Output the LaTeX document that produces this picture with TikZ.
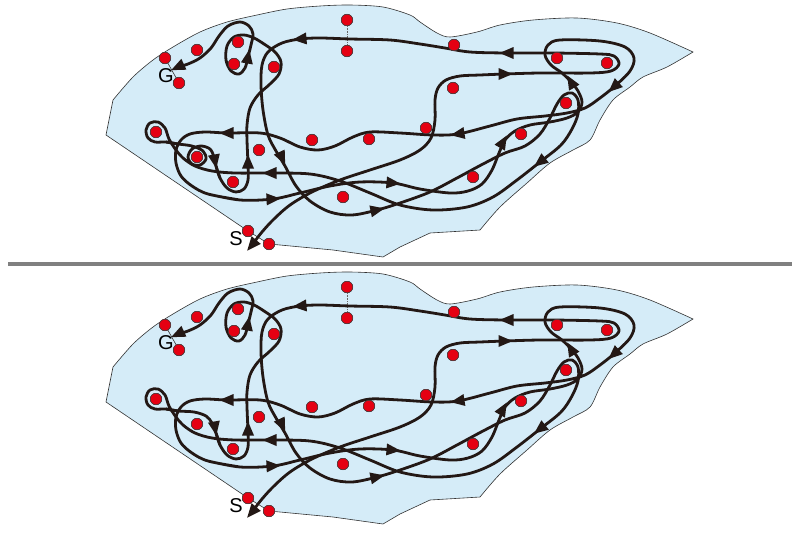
\documentclass[tikz,border=0pt]{standalone}
\usepackage{fontspec}
\setmainfont{Liberation Sans}
\usetikzlibrary{positioning}
\definecolor{pool}{HTML}{D5ECF8}
\definecolor{spot}{HTML}{E50012}
\definecolor{ink}{HTML}{231815}
\begin{document}
\begin{tikzpicture}[x=1pt,y=-1pt,
				spotdot/.style={circle,draw=black!75,line width=0.5pt,fill=spot,inner sep=0pt,minimum size=11.5pt},
				trail/.style={draw=ink,line width=2.8pt,line join=round},
				wall/.style={draw=black!80,line width=0.6pt,fill=pool},
				gate/.style={draw=black!80,line width=0.6pt},
				letter/.style={inner sep=0pt,font=\fontsize{20}{20}\selectfont}]
				\useasboundingbox (0,0) rectangle (800,533);
				\draw[line width=4pt,black!50] (8,264) -- (792,264);
				\foreach \dy/\pn/\ring in {0/t/1,267/b/0}{
				\begin{scope}[shift={(0,\dy)}]
					\draw[wall] (248,231) -- (106,135) -- (113,100)
						-- plot[smooth,tension=0.5] coordinates {(113,100) (133,77) (153,60) (173,47) (200,32) (227,22) (257,15) (287,9) (320,6) (350,5) (383,7) (410,15) (420,22) (437,33) (450,37) (477,32) (500,25) (533,20) (577,18) (617,23) (650,33) (693,52)}
						-- plot[smooth,tension=0.5] coordinates {(693,52) (667,67) (643,77) (630,87) (613,100) (600,120) (590,140) (573,150) (550,163) (527,183) (500,207) (480,230)}
						-- (430,233) -- (400,247) -- (383,257) -- (333,250) -- (280,245) -- (269,244) -- cycle;
					\foreach \x/\y [count=\i] in {347/20,347/51,165/58,179/83,197/50,238/42,234/64,274/67,454/45,557/58,607/63,453/88,566/103,156/132,197/157,259/150,312/140,369/139,426/128,233/182,343/197,521/134,473/177,248/231,269/244}
						\node (\pn-\i) [spotdot] at (\x,\y) {};
					\draw[gate,densely dotted,black!60] (\pn-1) -- (\pn-2);
					\draw[gate] (\pn-3) -- (\pn-4);
					\draw[trail] plot[smooth,tension=0.55] coordinates {(252,245) (262,232) (274,219) (290,205) (312,192) (340,180) (370,170) (400,160) (420,150) (431,138) (435,120) (435,100) (438,88) (446,80) (460,76) (480,75) (505,74) (540,73) (590,73) (611,71) (619,64) (614,56) (600,54) (553,53) (507,53) (470,52) (445,48) (420,44) (390,40) (350,39) (320,38) (300,39) (282,43) (268,52) (262,65) (261,85) (263,110) (268,135) (276,151) (285,166) (296,186) (310,201) (330,212) (352,215) (377,210) (400,203) (430,192) (457,178) (483,164) (505,153) (525,146) (540,134) (550,118) (557,104) (564,95) (572,93) (578,100) (578,114) (572,129) (561,145) (540,162) (517,180) (493,197) (467,207) (433,210) (400,205) (370,193) (340,181) (310,174) (270,173) (235,173) (212,171) (195,166) (183,158) (176,150) (169,139) (165,128) (158,122) (150,123) (146,130) (148,138) (155,142) (166,142) (178,144)};
					\ifnum\ring=1
						\draw[trail] plot[smooth,tension=0.55] coordinates {(166,142) (178,144) (192,146) (203,151) (206,159) (200,165) (192,164) (188,157) (192,149) (201,146) (210,149) (214,157) (216,166) (220,178)};
					\else
						\draw[trail] plot[smooth,tension=0.55] coordinates {(166,142) (178,144) (194,145) (206,149) (212,156) (216,166) (220,178)};
					\fi
					\draw[trail] plot[smooth,tension=0.55] coordinates {(216,166) (220,178) (227,188) (236,192) (244,189) (248,180) (248,165) (247,140) (247,125) (250,108) (258,95) (270,84) (279,74) (281,62) (275,52) (264,44) (254,38) (244,35) (234,37) (227,46) (226,60) (231,71) (239,74) (245,68) (248,57) (251,45) (253,34) (249,26) (240,22) (228,26) (219,36) (211,48) (200,58) (188,64) (178,67)};
					\draw[trail] plot[smooth,tension=0.55] coordinates {(208,194) (240,200) (273,199) (300,193) (330,186) (360,182) (393,183) (420,189) (450,193) (468,191) (482,184) (492,170) (499,153) (505,140) (515,131) (530,125) (550,122) (567,118) (578,112) (582,102) (578,91) (571,82) (562,73) (551,65) (545,55) (548,45) (560,40) (600,41) (625,47) (634,58) (630,71) (615,86) (600,98) (585,108) (567,113) (545,116) (517,119) (490,126) (458,134) (433,135) (400,133) (370,132) (353,137) (335,146) (318,150) (300,147) (280,138) (260,133) (227,133) (205,132) (190,134) (181,140) (176,150) (176,163) (181,176) (192,186) (208,194) (240,200)};
					\foreach \x/\y/\a in {300/39/185,507/53/180,505/74/0,248/57/80,178/67/205,282/158/-65,215/161/-80,248/162/90,227/133/180,270/173/180,273/199/3,393/183/-5,377/210/12,458/134/189,503/142/60,571/82/120,614/87/-138,540/162/-142,252/245/230}
						\fill[ink,shift={(\x,\y)},rotate=\a] (7.5,0) -- (-6.5,6) -- (-6.5,-6) -- cycle;
					\foreach \x/\y [count=\i] in {347/20,347/51,165/58,179/83,197/50,238/42,234/64,274/67,454/45,557/58,607/63,453/88,566/103,156/132,197/157,259/150,312/140,369/139,426/128,233/182,343/197,521/134,473/177,248/231,269/244}
						\node (\pn-\i) [spotdot] at (\x,\y) {};
					\node (\pn-G) [letter] at (166,76) {G};
					\node (\pn-S) [letter] at (236,239) {S};
				\end{scope}}
\end{tikzpicture}
\end{document}
